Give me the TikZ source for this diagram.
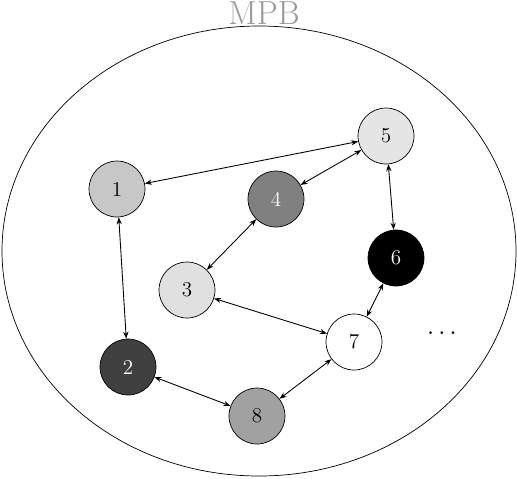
\documentclass[tikz,border=0pt]{standalone}
\usepackage{amsmath,amssymb}
\usepackage{tikz}
\usetikzlibrary{arrows.meta, positioning}

\tikzset{
  peer/.style={circle, draw, minimum size=1.12cm, inner sep=0pt, font=\large},
  link/.style={{Stealth[length=4pt,width=3pt]}-{Stealth[length=4pt,width=3pt]}, line width=0.5pt}
}

\begin{document}
\begin{tikzpicture}[x=0.02cm, y=-0.02cm]
\useasboundingbox (0,0) rectangle (517,478);
% boundary
\draw (259,251) ellipse [x radius=257, y radius=225];
\node (title) at (264,13) {\fontsize{19}{22}\selectfont \textcolor{gray!80}{MPB}};

% peers
\node[peer, fill=black!22] (n1) at (117,189) {1};
\node[peer, fill=black!75, text=white] (n2) at (128,367) {2};
\node[peer, fill=black!12] (n3) at (187,290) {3};
\node[peer, fill=black!50, text=white] (n4) at (276,199) {4};
\node[peer, fill=black!10] (n5) at (386,136) {5};
\node[peer, fill=black, text=white] (n6) at (396,258) {6};
\node[peer, fill=white] (n7) at (354,342) {7};
\node[peer, fill=black!37] (n8) at (257,416) {8};
\node (more) at (444,334) {\Large $\cdots$};

% links
\draw[link] (n1) -- (n5);
\draw[link] (n1) -- (n2);
\draw[link] (n4) -- (n5);
\draw[link] (n3) -- (n4);
\draw[link] (n5) -- (n6);
\draw[link] (n6) -- (n7);
\draw[link] (n3) -- (n7);
\draw[link] (n7) -- (n8);
\draw[link] (n2) -- (n8);
\end{tikzpicture}
\end{document}
